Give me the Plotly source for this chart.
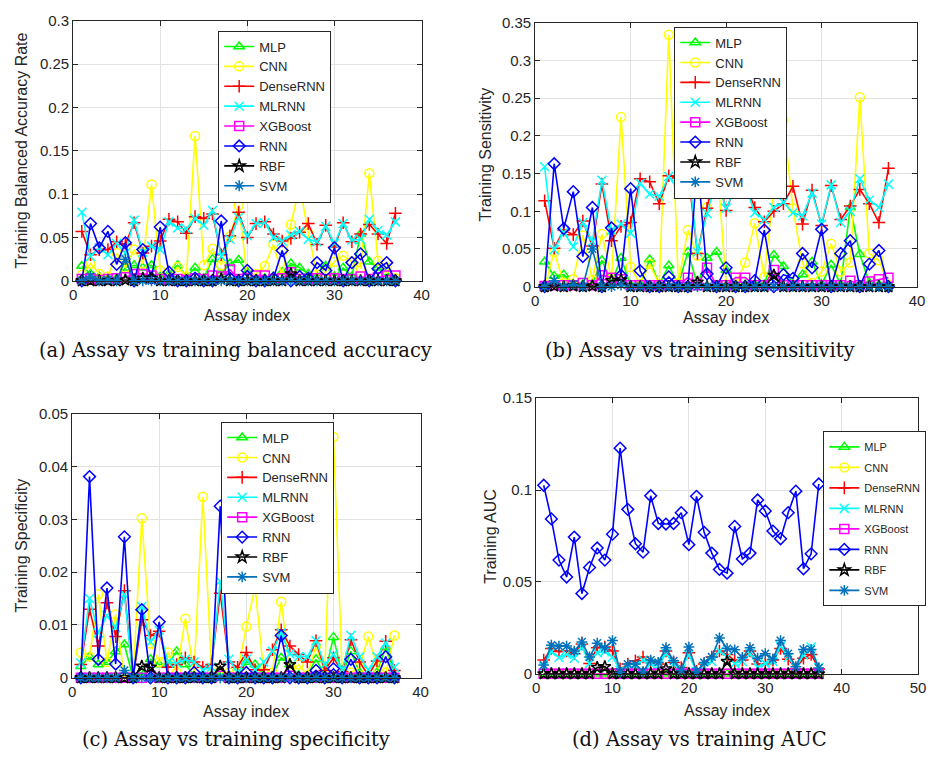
import plotly.graph_objects as go

W, H = 933, 764

ASSAY = list(range(1, 38))
MODELS = ["MLP", "CNN", "DenseRNN", "MLRNN", "XGBoost", "RNN", "RBF", "SVM"]
COLORS = ["#00ff00", "#ffff00", "#ff0000", "#00ffff", "#ff00ff", "#0000ff", "#000000", "#0072bd"]
SYMBOLS = ["triangle-up-open", "circle-open", "cross-thin-open", "x-thin-open",
           "square-open", "diamond-open", "star-open", "asterisk-open"]

# (a) training balanced accuracy rate
BAL_MLP = [0.017, 0.008, 0.005, 0.003, 0.003, 0.015, 0.018, 0.015, 0.018, 0.005,
           0.008, 0.018, 0.005, 0.015, 0.003, 0.025, 0.008, 0.020, 0.024, 0.010,
           0.003, 0.003, 0.005, 0.010, 0.020, 0.015, 0.008, 0.005, 0.017, 0.005,
           0.015, 0.005, 0.054, 0.022, 0.015, 0.010, 0.002]
BAL_CNN = [0.007, 0.020, 0.008, 0.005, 0.032, 0.015, 0.036, 0.020, 0.111, 0.012,
           0.003, 0.016, 0.005, 0.167, 0.018, 0.037, 0.018, 0.051, 0.087, 0.005,
           0.008, 0.017, 0.042, 0.005, 0.065, 0.110, 0.055, 0.007, 0.010, 0.022,
           0.029, 0.022, 0.015, 0.124, 0.023, 0.015, 0.003]
BAL_DENSERNN = [0.057, 0.030, 0.036, 0.036, 0.045, 0.042, 0.067, 0.032, 0.040, 0.046,
                0.071, 0.068, 0.055, 0.074, 0.072, 0.077, 0.030, 0.052, 0.079, 0.050,
                0.066, 0.068, 0.054, 0.046, 0.049, 0.056, 0.066, 0.042, 0.064, 0.039,
                0.067, 0.045, 0.054, 0.065, 0.054, 0.043, 0.078]
BAL_MLRNN = [0.079, 0.028, 0.038, 0.030, 0.043, 0.032, 0.070, 0.033, 0.040, 0.036,
             0.068, 0.061, 0.060, 0.072, 0.064, 0.081, 0.028, 0.048, 0.073, 0.052,
             0.066, 0.067, 0.050, 0.046, 0.053, 0.057, 0.048, 0.045, 0.063, 0.043,
             0.066, 0.047, 0.048, 0.071, 0.058, 0.053, 0.068]
BAL_XGB = [0.002, 0.003, 0.001, 0.002, 0.003, 0.004, 0.008, 0.008, 0.006, 0.002,
           0.001, 0.002, 0.001, 0.003, 0.002, 0.006, 0.005, 0.013, 0.002, 0.003,
           0.006, 0.006, 0.002, 0.003, 0.010, 0.002, 0.002, 0.003, 0.002, 0.003,
           0.002, 0.002, 0.005, 0.002, 0.004, 0.006, 0.006]
BAL_RNN = [0.000, 0.066, 0.038, 0.057, 0.019, 0.044, 0.000, 0.036, 0.003, 0.062,
           0.010, 0.000, 0.000, 0.003, 0.000, 0.000, 0.069, 0.003, 0.000, 0.012,
           0.000, 0.000, 0.003, 0.035, 0.000, 0.005, 0.003, 0.021, 0.012, 0.038,
           0.000, 0.021, 0.031, 0.000, 0.014, 0.021, 0.000]
BAL_RBF = [0, 0, 0, 0, 0, 0.001, 0, 0.003, 0.003, 0,
           0, 0, 0, 0, 0, 0, 0.002, 0, 0, 0,
           0, 0, 0, 0, 0.008, 0, 0, 0, 0, 0,
           0, 0, 0, 0, 0, 0, 0]
BAL_SVM = [0, 0.005, 0, 0.001, 0, 0.025, 0, 0, 0, 0,
           0, 0, 0, 0, 0, 0, 0, 0, 0, 0,
           0, 0, 0, 0, 0, 0, 0, 0, 0, 0,
           0, 0, 0, 0, 0, 0, 0]

# (b) training sensitivity
SEN_MLP = [0.033, 0.014, 0.016, 0.003, 0.003, 0.003, 0.035, 0.005, 0.038, 0.002,
           0.003, 0.036, 0.003, 0.028, 0.003, 0.046, 0.003, 0.038, 0.046, 0.022,
           0.003, 0.003, 0.003, 0.003, 0.042, 0.027, 0.003, 0.016, 0.033, 0.003,
           0.029, 0.003, 0.105, 0.043, 0.005, 0.003, 0.002]
SEN_CNN = [0.000, 0.046, 0.005, 0.010, 0.068, 0.009, 0.070, 0.010, 0.225, 0.026,
           0.003, 0.030, 0.003, 0.334, 0.005, 0.075, 0.041, 0.105, 0.174, 0.003,
           0.003, 0.032, 0.084, 0.013, 0.133, 0.221, 0.104, 0.031, 0.005, 0.020,
           0.057, 0.020, 0.032, 0.251, 0.044, 0.035, 0.003]
SEN_DENSERNN = [0.114, 0.051, 0.075, 0.069, 0.087, 0.054, 0.136, 0.061, 0.080, 0.085,
                0.143, 0.139, 0.110, 0.147, 0.144, 0.154, 0.044, 0.104, 0.157, 0.101,
                0.135, 0.137, 0.105, 0.086, 0.100, 0.110, 0.133, 0.083, 0.128, 0.081,
                0.134, 0.089, 0.107, 0.129, 0.110, 0.085, 0.157]
SEN_MLRNN = [0.159, 0.049, 0.072, 0.053, 0.085, 0.060, 0.141, 0.075, 0.083, 0.071,
             0.137, 0.123, 0.120, 0.146, 0.128, 0.164, 0.046, 0.097, 0.143, 0.104,
             0.131, 0.134, 0.098, 0.089, 0.105, 0.112, 0.098, 0.094, 0.124, 0.083,
             0.135, 0.085, 0.100, 0.143, 0.115, 0.105, 0.136]
SEN_XGB = [0.001, 0.002, 0.002, 0.002, 0.005, 0.002, 0.015, 0.012, 0.010, 0.002,
           0.002, 0.002, 0.002, 0.002, 0.002, 0.012, 0.002, 0.025, 0.002, 0.002,
           0.012, 0.012, 0.002, 0.002, 0.022, 0.002, 0.002, 0.002, 0.002, 0.002,
           0.002, 0.002, 0.008, 0.002, 0.007, 0.010, 0.012]
SEN_RNN = [0.000, 0.163, 0.077, 0.126, 0.040, 0.105, 0.000, 0.078, 0.015, 0.130,
           0.021, 0.000, 0.000, 0.013, 0.000, 0.000, 0.164, 0.017, 0.000, 0.025,
           0.000, 0.000, 0.008, 0.075, 0.000, 0.016, 0.011, 0.044, 0.025, 0.076,
           0.000, 0.044, 0.061, 0.000, 0.030, 0.048, 0.000]
SEN_RBF = [0, 0.001, 0, 0.001, 0, 0.001, 0, 0.008, 0.009, 0,
           0, 0, 0, 0, 0, 0, 0.006, 0, 0, 0,
           0, 0, 0, 0, 0.015, 0, 0, 0, 0, 0,
           0, 0, 0, 0, 0, 0, 0]
SEN_SVM = [0, 0.008, 0, 0.003, 0, 0.050, 0, 0, 0.002, 0,
           0, 0, 0, 0, 0, 0, 0, 0, 0, 0,
           0, 0, 0, 0, 0, 0, 0, 0, 0, 0,
           0, 0, 0, 0, 0, 0, 0]

# (c) training specificity
SPE_MLP = [0.0022, 0.0040, 0.0025, 0.0030, 0.0050, 0.0063, 0.0000, 0.0010, 0.0035, 0.0025,
           0.0025, 0.0050, 0.0025, 0.0005, 0.0000, 0.0005, 0.0010, 0.0005, 0.0005, 0.0030,
           0.0025, 0.0005, 0.0005, 0.0038, 0.0025, 0.0005, 0.0005, 0.0035, 0.0005, 0.0077,
           0.0005, 0.0050, 0.0010, 0.0005, 0.0010, 0.0058, 0.0005]
SPE_CNN = [0.0048, 0.0040, 0.0158, 0.0030, 0.0120, 0.0000, 0.0000, 0.0302, 0.0065, 0.0030,
           0.0048, 0.0010, 0.0112, 0.0010, 0.0343, 0.0020, 0.0010, 0.0010, 0.0010, 0.0097,
           0.0172, 0.0010, 0.0010, 0.0144, 0.0010, 0.0025, 0.0005, 0.0060, 0.0010, 0.0456,
           0.0010, 0.0010, 0.0020, 0.0078, 0.0020, 0.0010, 0.0080]
SPE_DENSERNN = [0.0025, 0.0130, 0.0060, 0.0142, 0.0078, 0.0165, 0.0000, 0.0110, 0.0080, 0.0088,
                0.0020, 0.0025, 0.0038, 0.0030, 0.0020, 0.0025, 0.0160, 0.0030, 0.0020, 0.0048,
                0.0015, 0.0015, 0.0053, 0.0091, 0.0060, 0.0044, 0.0030, 0.0070, 0.0014, 0.0038,
                0.0012, 0.0072, 0.0030, 0.0005, 0.0032, 0.0069, 0.0014]
SPE_MLRNN = [0.0028, 0.0150, 0.0085, 0.0118, 0.0095, 0.0158, 0.0000, 0.0135, 0.0068, 0.0090,
             0.0030, 0.0028, 0.0035, 0.0030, 0.0015, 0.0020, 0.0183, 0.0035, 0.0010, 0.0035,
             0.0015, 0.0030, 0.0050, 0.0085, 0.0045, 0.0040, 0.0040, 0.0070, 0.0025, 0.0044,
             0.0015, 0.0080, 0.0040, 0.0015, 0.0040, 0.0066, 0.0020]
SPE_XGB = [0, 0, 0, 0, 0, 0, 0, 0, 0.0004, 0,
           0, 0, 0, 0, 0, 0, 0.0004, 0, 0, 0,
           0, 0, 0, 0, 0.0004, 0, 0, 0, 0, 0,
           0, 0, 0, 0, 0, 0, 0]
SPE_RNN = [0, 0.0381, 0.0035, 0.0170, 0.0026, 0.0267, 0, 0.0129, 0, 0.0106,
           0, 0, 0, 0.0010, 0, 0, 0.0325, 0, 0, 0.0010,
           0, 0, 0, 0.0080, 0, 0, 0, 0.0014, 0, 0.0017,
           0, 0.0035, 0, 0, 0, 0.0040, 0]
SPE_RBF = [0, 0, 0, 0, 0, 0, 0, 0.0022, 0.0020, 0,
           0, 0, 0, 0, 0, 0, 0.0022, 0, 0, 0,
           0, 0, 0, 0, 0.0025, 0, 0, 0, 0, 0,
           0, 0, 0, 0, 0, 0, 0]
SPE_SVM = [0, 0, 0, 0, 0, 0.0014, 0, 0, 0, 0,
           0, 0, 0, 0, 0, 0, 0, 0, 0, 0,
           0, 0, 0, 0, 0, 0, 0, 0, 0, 0,
           0, 0, 0, 0, 0, 0, 0]

# (d) training AUC
AUC_MLP = [0] * 37
AUC_CNN = [0] * 37
AUC_DENSERNN = [0.0075, 0.0138, 0.0121, 0.0124, 0.0110, 0.0163, 0.0057, 0.0142, 0.0146, 0.0124,
                0.0027, 0.0053, 0.0071, 0.0092, 0.0062, 0.0053, 0.0124, 0.0062, 0.0035, 0.0115,
                0.0014, 0.0053, 0.0092, 0.0124, 0.0106, 0.0071, 0.0075, 0.0124, 0.0053, 0.0053,
                0.0075, 0.0138, 0.0080, 0.0027, 0.0085, 0.0106, 0.0027]
AUC_MLRNN = [0.0039, 0.0121, 0.0089, 0.0106, 0.0085, 0.0146, 0.0057, 0.0115, 0.0121, 0.0092,
             0.0018, 0.0035, 0.0044, 0.0075, 0.0053, 0.0044, 0.0110, 0.0053, 0.0027, 0.0103,
             0.0012, 0.0039, 0.0067, 0.0124, 0.0092, 0.0057, 0.0067, 0.0110, 0.0035, 0.0057,
             0.0067, 0.0151, 0.0089, 0.0035, 0.0103, 0.0146, 0.0035]
AUC_XGB = [0] * 37
AUC_RNN = [0.1026, 0.0843, 0.0619, 0.0527, 0.0744, 0.0437, 0.0579, 0.0685, 0.0619, 0.0760,
           0.1228, 0.0895, 0.0708, 0.0662, 0.0969, 0.0818, 0.0815, 0.0818, 0.0877, 0.0703,
           0.0966, 0.0770, 0.0657, 0.0568, 0.0548, 0.0802, 0.0625, 0.0657, 0.0946, 0.0886,
           0.0777, 0.0735, 0.0877, 0.0994, 0.0572, 0.0653, 0.1033]
AUC_RBF = [0, 0, 0, 0, 0, 0, 0, 0.0035, 0.0039, 0,
           0, 0, 0, 0, 0, 0, 0.0027, 0, 0, 0,
           0, 0, 0, 0, 0.0067, 0, 0, 0, 0, 0,
           0, 0, 0, 0, 0, 0, 0]
AUC_SVM = [0.0048, 0.0156, 0.0151, 0.0151, 0.0124, 0.0174, 0.0092, 0.0167, 0.0142, 0.0181,
           0.0009, 0.0053, 0.0053, 0.0012, 0.0075, 0.0062, 0.0142, 0.0071, 0.0018, 0.0146,
           0.0012, 0.0062, 0.0092, 0.0195, 0.0138, 0.0131, 0.0089, 0.0142, 0.0085, 0.0110,
           0.0080, 0.0181, 0.0110, 0.0039, 0.0133, 0.0133, 0.0032]

PANELS = [
    dict(series=[BAL_MLP, BAL_CNN, BAL_DENSERNN, BAL_MLRNN, BAL_XGB, BAL_RNN, BAL_RBF, BAL_SVM],
         ytitle="Training Balanced Accuracy Rate", yrange=[0, 0.3], ydtick=0.05, xrange=[0, 40],
         caption="(a) Assay vs training balanced accuracy",
         box=(70, 423, 12, 278), ytitle_x=18, xtitle_y=313, caption_y=349,
         legend=dict(left=217, top=22, size=13, gap=0)),
    dict(series=[SEN_MLP, SEN_CNN, SEN_DENSERNN, SEN_MLRNN, SEN_XGB, SEN_RNN, SEN_RBF, SEN_SVM],
         ytitle="Training Sensitivity", yrange=[0, 0.35], ydtick=0.05, xrange=[0, 40],
         caption="(b) Assay vs training sensitivity",
         box=(538, 925, 14, 284), ytitle_x=488, xtitle_y=316, caption_y=349,
         legend=dict(left=679, top=18, size=13, gap=0)),
    dict(series=[SPE_MLP, SPE_CNN, SPE_DENSERNN, SPE_MLRNN, SPE_XGB, SPE_RNN, SPE_RBF, SPE_SVM],
         ytitle="Training Specificity", yrange=[0, 0.05], ydtick=0.01, xrange=[0, 40],
         caption="(c) Assay vs training specificity",
         box=(69, 422, 414, 684), ytitle_x=18, xtitle_y=718, caption_y=747,
         legend=dict(left=220, top=422, size=13, gap=0)),
    dict(series=[AUC_MLP, AUC_CNN, AUC_DENSERNN, AUC_MLRNN, AUC_XGB, AUC_RNN, AUC_RBF, AUC_SVM],
         ytitle="Training AUC", yrange=[0, 0.15], ydtick=0.05, xrange=[0, 50],
         caption="(d) Assay vs training AUC",
         box=(539, 926, 398, 680), ytitle_x=492, xtitle_y=717, caption_y=747,
         legend=dict(left=830, top=432, size=11, gap=1.5)),
]

SANS = "Liberation Sans, Arial, sans-serif"
SERIF = "DejaVu Serif, serif"
AXIS_COLOR = "#262626"
GRID_COLOR = "#e2e2e2"

fig = go.Figure()
layout = dict(
    width=W, height=H,
    margin=dict(l=0, r=0, t=0, b=0),
    paper_bgcolor="white", plot_bgcolor="white",
    font=dict(family=SANS, color=AXIS_COLOR),
    annotations=[],
)

for i, p in enumerate(PANELS):
    n = "" if i == 0 else str(i + 1)
    xa, ya = "x" + n, "y" + n
    leg = "legend" + n
    x0, x1, y0, y1 = p["box"]
    for k, (name, vals) in enumerate(zip(MODELS, p["series"])):
        fig.add_trace(go.Scatter(
            x=ASSAY, y=vals, name=name, mode="lines+markers",
            xaxis=xa, yaxis=ya, legend=leg,
            legendgroup=f"{leg}-{name}",
            line=dict(color=COLORS[k], width=1.6),
            marker=dict(symbol=SYMBOLS[k], size=9, color=COLORS[k],
                        line=dict(width=1.5, color=COLORS[k])),
            cliponaxis=False,
        ))
    common = dict(showline=True, linecolor=AXIS_COLOR, linewidth=1, mirror="ticks",
                  ticks="inside", ticklen=5, tickcolor=AXIS_COLOR,
                  showgrid=True, gridcolor=GRID_COLOR, gridwidth=1, zeroline=False,
                  tickfont=dict(family=SANS, size=15, color=AXIS_COLOR))
    layout["xaxis" + n] = dict(common, domain=[x0 / W, x1 / W], range=p["xrange"], dtick=10,
                               anchor=ya, tick0=0)
    layout["yaxis" + n] = dict(common, domain=[1 - y1 / H, 1 - y0 / H], range=p["yrange"],
                               dtick=p["ydtick"], tick0=0, anchor=xa)
    lg = p["legend"]
    layout[leg] = dict(x=lg["left"] / W, y=1 - lg["top"] / H, xanchor="left", yanchor="top",
                       bgcolor="white", bordercolor=AXIS_COLOR, borderwidth=1,
                       font=dict(family=SANS, size=lg["size"], color=AXIS_COLOR),
                       tracegroupgap=lg["gap"], itemwidth=30)
    # axis titles and caption
    layout["annotations"].append(dict(
        text=p["ytitle"], x=p["ytitle_x"] / W, y=1 - ((y0 + y1) / 2) / H, xref="paper", yref="paper",
        textangle=-90, showarrow=False, xanchor="center", yanchor="middle",
        font=dict(family=SANS, size=16, color=AXIS_COLOR)))
    layout["annotations"].append(dict(
        text="Assay index", x=((x0 + x1) / 2) / W, y=1 - p["xtitle_y"] / H, xref="paper", yref="paper",
        showarrow=False, xanchor="center", yanchor="middle",
        font=dict(family=SANS, size=16, color=AXIS_COLOR)))
    layout["annotations"].append(dict(
        text=p["caption"], x=(235 if i % 2 == 0 else 705) / W, y=1 - p["caption_y"] / H,
        xref="paper", yref="paper", showarrow=False, xanchor="center", yanchor="middle",
        font=dict(family=SERIF, size=19.5, color="#111111")))

fig.update_layout(**layout)
fig.write_html("out.html")
